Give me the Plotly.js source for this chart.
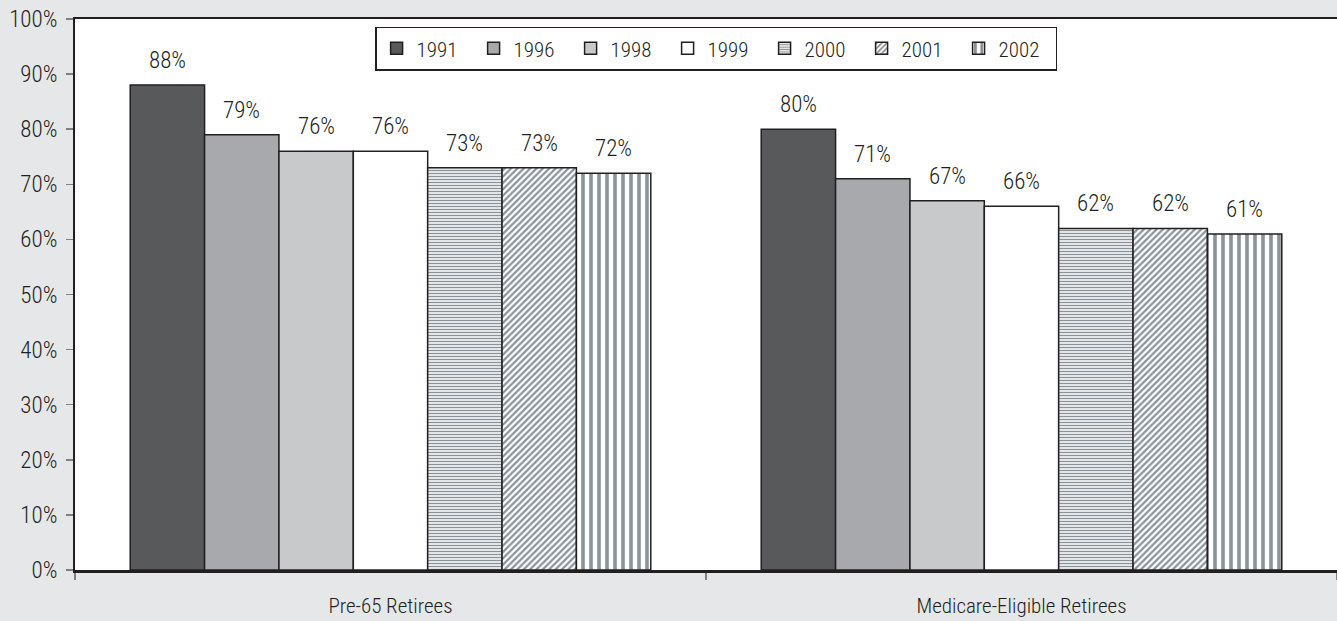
<!DOCTYPE html>
<html>
<head>
<meta charset="utf-8">
<script src="https://cdn.plot.ly/plotly-3.0.1.min.js"></script>
<style>
  html, body { margin: 0; padding: 0; background: #e6e7e8; }
  #chart { width: 1337px; height: 621px; }
</style>
</head>
<body>
<div id="chart"></div>
<script>
// Retiree groups on the x axis
const categories = ['Pre-65 Retirees', 'Medicare-Eligible Retirees'];

// Survey years, one bar series each
const years = ['1991', '1996', '1998', '1999', '2000', '2001', '2002'];

// Percent values per year: [Pre-65, Medicare-Eligible]
const v1991 = [88, 80];
const v1996 = [79, 71];
const v1998 = [76, 67];
const v1999 = [76, 66];
const v2000 = [73, 62];
const v2001 = [73, 62];
const v2002 = [72, 61];
const seriesValues = [v1991, v1996, v1998, v1999, v2000, v2001, v2002];

const yTickVals = [0, 10, 20, 30, 40, 50, 60, 70, 80, 90, 100];
const yTickText = yTickVals.map(v => v + '%');

// Fill styles per series
const INK = '#231f20';
const STRIPE = '#8a939a';
const stripe = (shape, size, solidity) => ({
  shape: shape, fgcolor: STRIPE, fgopacity: 1, bgcolor: '#ffffff',
  size: size, solidity: solidity, fillmode: 'overlay'
});
const styles = [
  { color: '#58595b' },
  { color: '#a7a9ac' },
  { color: '#c8c9cb' },
  { color: '#ffffff' },
  { color: '#ffffff', pattern: stripe('-', 3, 0.5) },
  { color: '#ffffff', pattern: stripe('/', 4.5, 0.5) },
  { color: '#ffffff', pattern: stripe('|', 8, 0.45) }
];

const FONT = '"Roboto Condensed", Roboto, sans-serif';
const WEIGHT = 300;

const traces = years.map((yr, i) => {
  const marker = { color: styles[i].color, line: { color: INK, width: 1.5 } };
  if (styles[i].pattern) marker.pattern = styles[i].pattern;
  return {
    type: 'bar',
    name: yr,
    x: categories,
    y: seriesValues[i],
    marker: marker,
    hoverinfo: 'skip'
  };
});

// Layout geometry
const W = 1337, H = 621;
const margin = { l: 75, r: 0, t: 19, b: 51 };
const BARGAP = 0.175;
const plotW = W - margin.l - margin.r;
const barPx = (plotW / categories.length) * (1 - BARGAP) / years.length;

// Value labels above each bar
const annotations = [];
years.forEach((yr, i) => {
  seriesValues[i].forEach((v, c) => {
    annotations.push({
      x: categories[c],
      y: v,
      xref: 'x',
      yref: 'y',
      text: v + '%',
      showarrow: false,
      yanchor: 'bottom',
      xshift: (i - (years.length - 1) / 2) * barPx,
      yshift: 9,
      font: { family: FONT, size: 23, weight: WEIGHT, color: INK }
    });
  });
});

const layout = {
  width: W,
  height: H,
  margin: margin,
  paper_bgcolor: '#e6e7e8',
  plot_bgcolor: '#ffffff',
  barmode: 'group',
  bargap: BARGAP,
  bargroupgap: 0,
  showlegend: true,
  font: { family: FONT, size: 20, weight: WEIGHT, color: INK },
  legend: {
    orientation: 'h',
    x: 0.508,
    xanchor: 'center',
    y: 0.986,
    yanchor: 'top',
    bgcolor: '#ffffff',
    bordercolor: INK,
    borderwidth: 1.5,
    font: { family: FONT, size: 21, weight: WEIGHT, color: INK },
    entrywidth: 52,
    entrywidthmode: 'pixels',
    itemwidth: 30,
    traceorder: 'normal'
  },
  xaxis: {
    type: 'category',
    showline: true,
    linecolor: INK,
    linewidth: 2.5,
    mirror: true,
    ticks: 'outside',
    tickson: 'boundaries',
    ticklen: 7,
    tickcolor: '#808080',
    tickwidth: 1.5,
    ticklabelstandoff: 15,
    tickfont: { family: FONT, size: 21, weight: WEIGHT, color: INK },
    showgrid: false,
    zeroline: false,
    fixedrange: true
  },
  yaxis: {
    range: [0, 100],
    tickvals: yTickVals,
    ticktext: yTickText,
    showline: true,
    linecolor: INK,
    linewidth: 2,
    mirror: true,
    ticks: 'outside',
    ticklen: 7,
    tickcolor: '#808080',
    tickwidth: 1.5,
    ticklabelstandoff: 4,
    tickfont: { family: FONT, size: 23, weight: WEIGHT, color: INK },
    showgrid: false,
    zeroline: false,
    fixedrange: true
  },
  annotations: annotations
};

Plotly.newPlot('chart', traces, layout, { displayModeBar: false, staticPlot: true });
</script>
</body>
</html>
